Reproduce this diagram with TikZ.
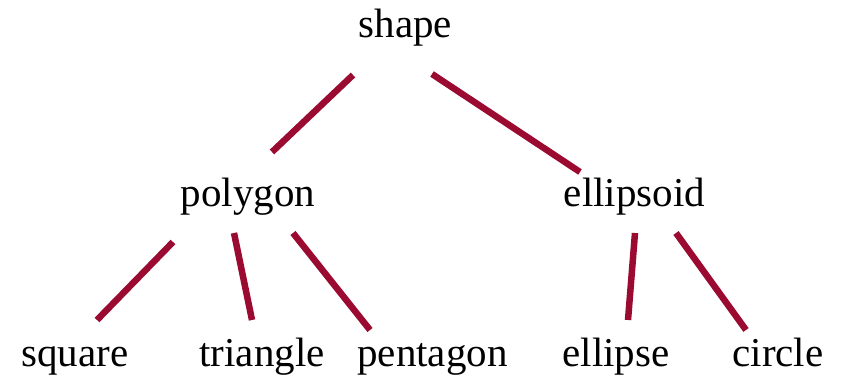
\documentclass[tikz,border=0pt]{standalone}
\usepackage{fontspec}
\setmainfont{Liberation Serif}
\usetikzlibrary{calc}
\definecolor{branchred}{RGB}{155,10,48}

\begin{document}
\begin{tikzpicture}[x=1pt, y=1pt, every node/.style={font=\fontsize{41}{49}\selectfont, inner sep=0pt, anchor=base}, branch/.style={draw=branchred, line width=6.5pt}]
\useasboundingbox (0,0) rectangle (848,377);
\node (shape) at (405.5,339) {shape};
\node (poly) at (248,170) {polygon};
\node (ellsd) at (634.5,170) {ellipsoid};
\node (sq) at (75,10) {square};
\node (tri) at (262,10) {triangle};
\node (pent) at (432.5,10) {pentagon};
\node (elp) at (616,10) {ellipse};
\node (circ) at (778,10) {circle};
\draw[branch] ($(shape.base)+(-52.5,-37)$) -- ($(poly.base)+(24,55)$);
\draw[branch] ($(shape.base)+(26.5,-36)$) -- ($(ellsd.base)+(-54.5,35)$);
\draw[branch] ($(poly.base)+(-75,-35)$) -- ($(sq.base)+(22,47)$);
\draw[branch] ($(poly.base)+(-14,-26)$) -- ($(tri.base)+(-10,47)$);
\draw[branch] ($(poly.base)+(45,-26)$) -- ($(pent.base)+(-62.5,37)$);
\draw[branch] ($(ellsd.base)+(0.5,-26)$) -- ($(elp.base)+(12,47)$);
\draw[branch] ($(ellsd.base)+(41.5,-26)$) -- ($(circ.base)+(-32,37)$);
\end{tikzpicture}
\end{document}
